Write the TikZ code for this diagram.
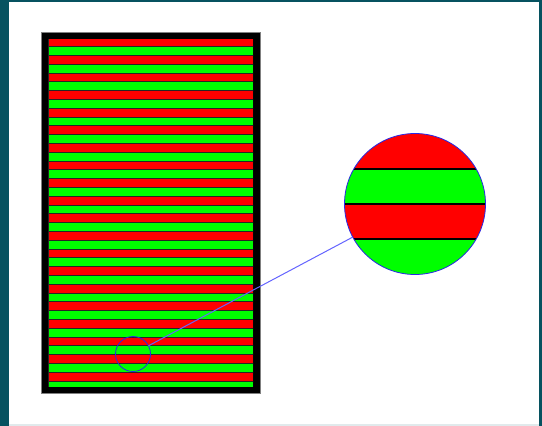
\documentclass[tikz,border=0pt]{standalone}
\definecolor{frameteal}{RGB}{6,82,96}
\definecolor{stripered}{RGB}{255,0,0}
\definecolor{stripegreen}{RGB}{0,255,0}
\definecolor{lensblue}{RGB}{40,40,230}
\definecolor{linkblue}{RGB}{100,100,255}
\begin{document}
\begin{tikzpicture}[x=1pt,y=-1pt,
  stripe/.style={draw=black!85, line width=0.7pt},
  lens/.style={circle, draw=lensblue, line width=0.8pt, inner sep=0pt, outer sep=0pt},
  link/.style={draw=linkblue, line width=1pt},
  sep/.style={draw=black, line width=1.5pt}]
\useasboundingbox (0,0) rectangle (542,426);
\fill[white] (0,0) rectangle (542,426);
% window frame
\fill[frameteal] (0,0) rectangle (8.5,426);
\fill[frameteal] (0,0) rectangle (542,1.7);
\fill[frameteal] (538.5,0) rectangle (542,426);
\fill[frameteal!12] (8.5,424.3) rectangle (538.5,426);
% striped panel
\fill[black] (41,32) rectangle (260,393);
\draw[black!50, line width=0.6pt] (41,32) rectangle (260,393);
\begin{scope}
\clip (48,39) rectangle (253,386);
\foreach \i in {0,...,39} {
  \pgfmathsetmacro\ya{37.7+8.8*\i}
  \ifodd\i \def\stripecol{stripegreen}\else\def\stripecol{stripered}\fi
  \filldraw[stripe, fill=\stripecol] (48,\ya) rectangle (253,\ya+8.8);
}
\end{scope}
% magnified view
\begin{scope}
\clip (415,204) circle (70.5pt);
\fill[stripered] (340,130) rectangle (490,169.2);
\fill[stripegreen] (340,169.2) rectangle (490,204.2);
\fill[stripered] (340,204.2) rectangle (490,239.2);
\fill[stripegreen] (340,239.2) rectangle (490,280);
\draw[sep] (340,169.2) -- (490,169.2);
\draw[sep] (340,204.2) -- (490,204.2);
\draw[sep] (340,239.2) -- (490,239.2);
\end{scope}
\node[lens, minimum size=141pt] (big) at (415,204) {};
\node[lens, minimum size=35pt] (small) at (133,354) {};
\draw[link] (small) -- (big);
\end{tikzpicture}
\end{document}
